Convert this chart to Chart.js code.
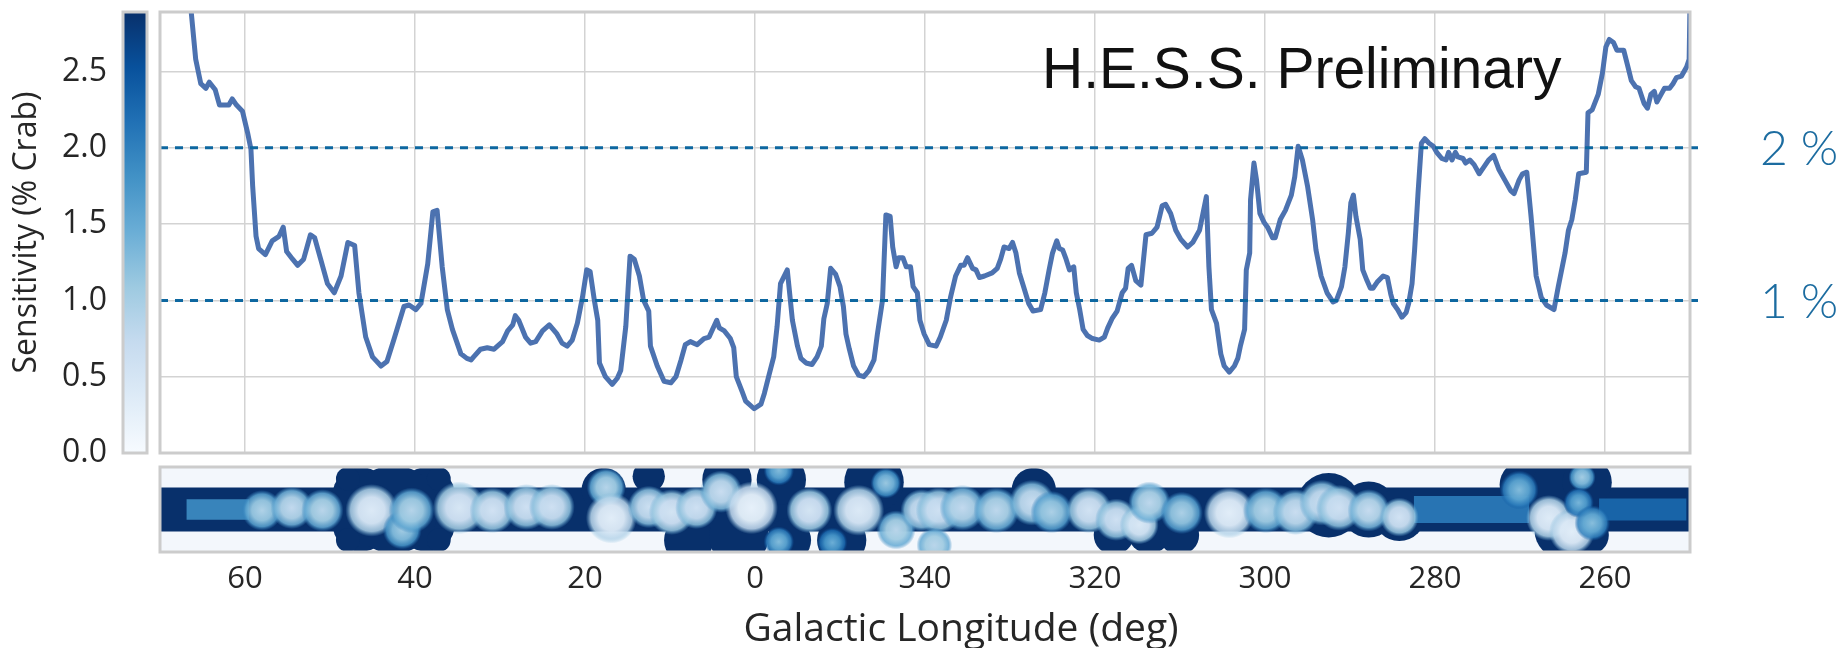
<!DOCTYPE html>
<html>
<head>
<meta charset="utf-8">
<title>H.E.S.S. Galactic plane sensitivity</title>
<script src="https://cdn.jsdelivr.net/npm/chart.js@4.4.1/dist/chart.umd.min.js"></script>
<style>
  html, body { margin: 0; padding: 0; background: #fff; }
  #wrap { position: relative; width: 1843px; height: 648px; overflow: hidden; }
  #wrap canvas { position: absolute; left: 0; top: 0; }
</style>
</head>
<body>
<div id="wrap">
  <canvas id="bar" width="1843" height="648"></canvas>
  <canvas id="map" width="1843" height="648"></canvas>
  <canvas id="curve" width="1843" height="648"></canvas>
</div>
<script>
// sensitivity profile along the plane: galactic longitude (deg) / sensitivity (% Crab)
const lon = [
  66.6, 65.8, 65.2, 64.6, 64.2, 63.5, 63.0, 61.9, 61.5, 61.0,
  60.3, 59.7, 59.3, 59.1, 58.7, 58.4, 57.6, 56.8, 56.0, 55.5,
  55.1, 54.4, 53.8, 53.1, 52.3, 51.8, 51.1, 50.3, 49.5, 48.7,
  47.9, 47.1, 46.6, 45.8, 45.0, 44.0, 43.3, 42.5, 41.3, 40.7,
  39.9, 39.3, 38.5, 37.9, 37.4, 36.8, 36.2, 35.6, 34.6, 33.9,
  33.4, 33.1, 32.3, 31.5, 30.7, 29.7, 29.1, 28.5, 28.2, 27.8,
  27.0, 26.4, 25.8, 25.0, 24.2, 23.3, 22.7, 22.1, 21.5, 20.9,
  20.3, 19.8, 19.4, 18.9, 18.5, 18.3, 17.6, 16.8, 16.2, 15.8,
  15.2, 14.7, 14.2, 13.6, 13.1, 12.5, 12.3, 11.5, 10.7, 9.9,
  9.3, 8.7, 8.2, 7.6, 6.8, 6.0, 5.4, 5.0, 4.5, 4.2,
  3.6, 2.9, 2.5, 2.2, 1.5, 1.1, 0.1, 359.3, 358.9, 358.4,
  357.8, 357.4, 357.0, 356.2, 355.6, 355.0, 354.6, 354.0, 353.3, 352.7,
  352.2, 351.9, 351.5, 351.1, 350.5, 350.0, 349.6, 349.3, 348.9, 348.4,
  347.8, 347.2, 346.6, 346.0, 345.6, 345.0, 344.6, 344.1, 343.8, 343.4,
  343.1, 342.6, 342.2, 341.7, 341.4, 340.9, 340.6, 340.1, 339.5, 338.7,
  338.2, 337.5, 337.0, 336.4, 335.8, 335.4, 335.0, 334.4, 334.0, 333.6,
  333.0, 332.1, 331.5, 331.1, 330.7, 330.1, 329.7, 329.3, 328.9, 328.4,
  327.8, 327.3, 326.4, 325.9, 325.4, 325.0, 324.5, 324.2, 323.8, 323.4,
  323.0, 322.5, 322.2, 321.8, 321.4, 320.9, 320.3, 319.5, 318.9, 318.5,
  318.0, 317.4, 316.8, 316.4, 316.1, 315.7, 315.2, 314.6, 314.0, 313.3,
  312.7, 312.1, 311.7, 311.1, 310.5, 309.9, 309.1, 308.5, 307.7, 307.3,
  306.9, 306.6, 306.3, 305.7, 305.2, 304.8, 304.2, 303.6, 303.2, 302.9,
  302.4, 302.2, 301.8, 301.7, 301.3, 301.0, 300.6, 300.1, 299.7, 299.1,
  298.8, 298.2, 297.6, 296.9, 296.5, 296.1, 295.6, 295.0, 294.4, 294.0,
  293.4, 292.7, 292.0, 291.6, 291.0, 290.6, 290.2, 289.9, 289.6, 289.3,
  288.8, 288.5, 288.0, 287.6, 287.3, 286.8, 286.1, 285.6, 285.2, 284.9,
  284.4, 283.9, 283.4, 283.1, 282.7, 282.4, 282.0, 281.6, 281.2, 280.7,
  280.2, 279.8, 279.2, 278.7, 278.4, 278.0, 277.6, 277.3, 276.7, 276.4,
  275.9, 275.4, 274.8, 274.3, 273.7, 273.1, 272.5, 271.7, 271.1, 270.7,
  270.1, 269.7, 269.2, 268.7, 268.1, 267.5, 266.9, 266.0, 265.5, 264.7,
  264.3, 263.9, 263.5, 263.1, 262.2, 262.0, 261.5, 260.8, 260.3, 259.9,
  259.5, 259.0, 258.6, 257.8, 257.3, 256.9, 256.4, 256.0, 255.4, 255.0,
  254.6, 254.2, 253.9, 253.4, 253.0, 252.4, 252.0, 251.6, 251.0, 250.4,
  250.1, 250.0
];
const sens = [
  3.05, 2.58, 2.42, 2.39, 2.43, 2.38, 2.28, 2.28, 2.32, 2.28,
  2.24, 2.10, 1.99, 1.75, 1.42, 1.34, 1.30, 1.39, 1.42, 1.48,
  1.32, 1.27, 1.23, 1.27, 1.43, 1.41, 1.27, 1.11, 1.05, 1.16,
  1.38, 1.36, 1.05, 0.76, 0.63, 0.57, 0.60, 0.74, 0.96, 0.97,
  0.94, 0.98, 1.24, 1.58, 1.59, 1.22, 0.94, 0.81, 0.65, 0.62,
  0.61, 0.63, 0.68, 0.69, 0.68, 0.73, 0.80, 0.84, 0.90, 0.87,
  0.76, 0.72, 0.73, 0.80, 0.84, 0.78, 0.72, 0.70, 0.74, 0.85,
  1.02, 1.20, 1.19, 1.00, 0.87, 0.59, 0.50, 0.45, 0.49, 0.54,
  0.83, 1.29, 1.27, 1.16, 1.00, 0.93, 0.70, 0.57, 0.47, 0.46,
  0.50, 0.61, 0.71, 0.73, 0.71, 0.75, 0.76, 0.81, 0.87, 0.82,
  0.80, 0.75, 0.69, 0.50, 0.40, 0.34, 0.29, 0.32, 0.39, 0.50,
  0.63, 0.83, 1.11, 1.20, 0.87, 0.70, 0.62, 0.59, 0.58, 0.63,
  0.70, 0.88, 0.98, 1.21, 1.17, 1.09, 0.96, 0.78, 0.68, 0.57,
  0.51, 0.50, 0.54, 0.61, 0.78, 1.00, 1.56, 1.55, 1.35, 1.22,
  1.28, 1.28, 1.22, 1.22, 1.09, 1.05, 0.87, 0.78, 0.71, 0.70,
  0.76, 0.87, 1.02, 1.16, 1.23, 1.23, 1.28, 1.21, 1.20, 1.15,
  1.16, 1.18, 1.21, 1.27, 1.35, 1.34, 1.38, 1.31, 1.18, 1.09,
  0.98, 0.93, 0.94, 1.05, 1.20, 1.31, 1.39, 1.34, 1.33, 1.27,
  1.20, 1.22, 1.05, 0.94, 0.81, 0.77, 0.75, 0.74, 0.76, 0.82,
  0.88, 0.93, 1.05, 1.08, 1.21, 1.23, 1.13, 1.10, 1.43, 1.44,
  1.48, 1.62, 1.63, 1.57, 1.46, 1.40, 1.35, 1.38, 1.46, 1.57,
  1.68, 1.22, 0.94, 0.85, 0.65, 0.57, 0.53, 0.57, 0.62, 0.70,
  0.81, 1.20, 1.31, 1.66, 1.90, 1.79, 1.57, 1.51, 1.48, 1.41,
  1.41, 1.53, 1.59, 1.69, 1.81, 2.01, 1.92, 1.75, 1.53, 1.33,
  1.16, 1.05, 0.99, 1.00, 1.09, 1.22, 1.44, 1.64, 1.69, 1.55,
  1.40, 1.20, 1.13, 1.08, 1.08, 1.12, 1.16, 1.15, 1.04, 0.98,
  0.94, 0.89, 0.92, 0.98, 1.11, 1.33, 1.70, 2.03, 2.06, 2.03,
  2.01, 1.97, 1.93, 1.92, 1.97, 1.92, 1.97, 1.94, 1.93, 1.90,
  1.92, 1.89, 1.83, 1.87, 1.92, 1.95, 1.86, 1.78, 1.72, 1.70,
  1.79, 1.83, 1.84, 1.55, 1.16, 1.02, 0.97, 0.94, 1.09, 1.31,
  1.46, 1.53, 1.66, 1.83, 1.84, 2.23, 2.25, 2.35, 2.49, 2.66,
  2.71, 2.69, 2.64, 2.64, 2.53, 2.44, 2.40, 2.39, 2.29, 2.26,
  2.35, 2.37, 2.30, 2.35, 2.39, 2.39, 2.42, 2.46, 2.47, 2.53,
  2.58, 2.95
];

const sensMax = 2.89;
const yTicks = [0, 0.5, 1, 1.5, 2, 2.5];
const lonTicks = [60, 40, 20, 0, 340, 320, 300, 280, 260];
const lonRange = [250, 70];          // right edge, left edge
const levels = [2, 1];               // reference levels, % Crab
const levelEnd = 248.6;              // dashed lines run a bit past the frame

// survey map below the profile (lon, lat in deg)
const latRange = 5;
const bandLat = 2.6;                 // covered strip around b = 0
// bright spots of good sensitivity: lon, lat, radius (deg), sensitivity (% Crab)
const spotLon = [58.0, 54.5, 50.9, 45.1, 41.5, 40.4, 34.8, 30.9, 26.9, 23.9,
                 17.5, 16.9, 12.5, 9.8, 6.9, 4.0, 0.4, 357.2, 357.2, 353.6,
                 350.9, 347.8, 344.6, 343.4, 340.4, 338.4, 338.9, 335.6, 331.6, 327.4,
                 325.1, 320.7, 317.5, 314.8, 313.6, 309.8, 304.2, 299.9, 296.4, 293.3,
                 291.3, 287.8, 284.2, 270.1, 266.6, 263.9, 262.7, 263.1, 261.5];
const spotLat = [-0.1, 0.2, -0.1, -0.1, -2.4, -0.1, 0.2, -0.1, 0.3, 0.3,
                 2.6, -1.0, 0.3, -0.3, 0.2, 2.1, 0.2, 4.6, -3.8, -0.1,
                 -3.9, -0.1, 3.1, -2.4, -0.1, -0.1, -4.2, 0.2, -0.1, 0.8,
                 -0.3, -0.1, -1.2, -1.8, 0.8, -0.4, -0.4, -0.1, -0.3, 0.8,
                 0.2, -0.1, -0.9, 2.3, -1.0, -2.6, 3.8, 0.8, -1.6];
const spotRad = [2.4, 2.5, 2.5, 3.1, 2.3, 2.7, 3.1, 2.7, 2.7, 2.7,
                 2.3, 3.0, 2.5, 2.7, 2.5, 2.5, 3.1, 1.8, 1.8, 2.7,
                 1.8, 3.0, 1.8, 2.3, 2.5, 2.7, 2.1, 2.7, 2.7, 2.7,
                 2.5, 2.7, 2.5, 2.3, 2.5, 2.5, 3.0, 2.7, 2.7, 2.7,
                 2.7, 2.5, 2.3, 2.3, 2.7, 2.7, 1.6, 1.8, 2.1];
const spotSens = [1.15, 0.95, 1.05, 0.5, 1.3, 1.1, 0.6, 0.7, 0.75, 0.75,
                  1.1, 0.4, 0.8, 0.65, 0.75, 0.85, 0.3, 1.6, 1.6, 0.65,
                  1.8, 0.5, 1.4, 1.05, 0.8, 0.75, 1.05, 0.95, 1.0, 0.85,
                  1.2, 0.7, 0.75, 0.55, 1.0, 1.2, 0.4, 1.1, 0.85, 0.8,
                  0.75, 0.9, 0.7, 1.6, 0.45, 0.4, 1.3, 1.7, 1.55];
// extra coverage reaching outside the strip: lon, lat, radius (deg)
const haloLon = [46.4, 46.4, 38.6, 38.6, 42.5, 47.9, 47.9, 37.2, 37.2,
                 17.8, 12.5, 3.3, 356.9, 346.0,
                 7.8, 1.9, 356.0, 349.8, 327.2, 313.6, 310.1, 317.8, 292.5, 287.8,
                 284.2, 269.5, 265.2, 262.1, 264.8, 261.9];
const haloLat = [1.7, -1.7, 1.7, -1.7, 0, 3.6, -3.6, 3.6, -3.6,
                 2.3, 3.9, 3.5, 3.5, 3.2,
                 -3.6, -3.2, -3.6, -3.6, 2.3, -2.6, -3.0, -3.0, 0.5, 0,
                 -0.6, 2.9, 2.5, 3.2, -2.4, -3.0];
const haloRad = [3.3, 3.3, 3.3, 3.3, 5.2, 1.4, 1.4, 1.4, 1.4,
                 2.6, 1.9, 2.9, 2.9, 3.5,
                 2.9, 3.5, 2.6, 2.9, 2.6, 2.6, 2.35, 2.35, 3.8, 3.3,
                 3.1, 2.9, 3.5, 2.9, 3.5, 2.35];
// thin low-exposure scans: from / to lon, half width (deg), sensitivity
const stripFrom = [66.9, 282.5, 260.7];
const stripTo = [59.5, 268.9, 250.4];
const stripHalf = [1.2, 1.6, 1.3];
const stripSens = [1.85, 2.05, 2.25];

const toAxis = l => (l > 180 ? l - 360 : l);
const toLon = v => (v < 0 ? v + 360 : v);

// matplotlib "Blues"
const blues = ['#f7fbff', '#deebf7', '#c6dbef', '#9ecae1', '#6baed6',
               '#4292c6', '#2171b5', '#08519c', '#08306b'];
const navy = blues[blues.length - 1];
const rgb = c => [1, 3, 5].map(i => parseInt(c.slice(i, i + 2), 16));
function bluesAt(t, a = 1) {
  t = Math.min(1, Math.max(0, t)) * (blues.length - 1);
  const i = Math.min(Math.floor(t), blues.length - 2), f = t - i;
  const c0 = rgb(blues[i]), c1 = rgb(blues[i + 1]);
  const c = c0.map((v, k) => Math.round(v + (c1[k] - v) * f));
  return `rgba(${c[0]},${c[1]},${c[2]},${a})`;
}
const sensColor = (s, a) => bluesAt(s / sensMax, a);

function degPx(chart) {
  const s = chart.scales.x;
  if (!s) return 0;
  const d = Math.abs(s.getPixelForValue(1) - s.getPixelForValue(0));
  return Number.isFinite(d) ? d : 0;
}

Chart.defaults.font.family = '"Open Sans", "DejaVu Sans", sans-serif';
Chart.defaults.color = '#262626';

// grey box round the plot area
const frame = {
  id: 'frame',
  afterDraw(chart, args, opts) {
    const {ctx, chartArea: a} = chart;
    ctx.save();
    ctx.strokeStyle = opts.color || '#cccccc';
    ctx.lineWidth = opts.width || 3;
    ctx.strokeRect(a.left, a.top, a.right - a.left, a.bottom - a.top);
    ctx.restore();
  }
};

const backdrop = {
  id: 'backdrop',
  beforeDatasetsDraw(chart, args, opts) {
    if (!opts.color) return;
    const {ctx, chartArea: a} = chart;
    ctx.save();
    ctx.fillStyle = opts.color;
    ctx.fillRect(a.left, a.top, a.right - a.left, a.bottom - a.top);
    ctx.restore();
  }
};

// axis caption under the map, set a little right of the plot centre
const caption = {
  id: 'caption',
  afterDraw(chart, args, opts) {
    const {ctx} = chart;
    ctx.save();
    ctx.font = opts.font;
    ctx.fillStyle = opts.color;
    ctx.textAlign = 'center';
    ctx.textBaseline = 'middle';
    ctx.fillText(opts.text, opts.x, opts.y);
    ctx.restore();
  }
};

// watermark text and the level labels on the right
const notes = {
  id: 'notes',
  afterDraw(chart) {
    const {ctx, scales: {y}} = chart;
    ctx.save();
    ctx.fillStyle = '#111111';
    ctx.font = '57px "Liberation Sans", Arial, sans-serif';
    ctx.textBaseline = 'alphabetic';
    ctx.fillText('H.E.S.S. Preliminary', 1042, 88);
    ctx.fillStyle = '#1c6ca0';
    ctx.font = '300 48px Lato, "Open Sans", sans-serif';
    ctx.textBaseline = 'middle';
    levels.forEach(lv => ctx.fillText(lv + ' %', 1760, y.getPixelForValue(lv) + 2));
    ctx.restore();
  }
};

const lonTickList = scale => { scale.ticks = lonTicks.map(l => ({value: toAxis(l)})); };

/* ---- colour bar with the sensitivity axis ---- */
new Chart(document.getElementById('bar'), {
  type: 'bar',
  data: {
    labels: [''],
    datasets: [{
      data: [sensMax],
      barPercentage: 1,
      categoryPercentage: 1,
      borderWidth: 0,
      backgroundColor(ctx) {
        const a = ctx.chart.chartArea;
        if (!a) return bluesAt(0.5);
        const g = ctx.chart.ctx.createLinearGradient(0, a.bottom, 0, a.top);
        blues.forEach((c, i) => g.addColorStop(i / (blues.length - 1), c));
        return g;
      }
    }]
  },
  options: {
    responsive: false, animation: false, events: [], devicePixelRatio: 1,
    layout: {padding: {left: 0, top: 12, right: 1696, bottom: 195}},
    plugins: {legend: {display: false}, tooltip: {enabled: false}, frame: {color: '#cccccc', width: 3}},
    scales: {
      x: {display: false},
      y: {
        min: 0, max: sensMax,
        afterBuildTicks: s => { s.ticks = yTicks.map(v => ({value: v})); },
        afterFit: s => { s.width = 123; s.paddingTop = 0; s.paddingBottom = 0; },
        grid: {display: false},
        border: {display: false},
        ticks: {font: {size: 32}, padding: 8, callback: v => v.toFixed(1)},
        title: {display: true, text: 'Sensitivity (% Crab)', font: {size: 32}, padding: {top: 8, bottom: 0}}
      }
    }
  },
  plugins: [frame]
});

/* ---- survey map strip ---- */
const edge = lat => [{x: toAxis(lonRange[0]), y: lat}, {x: toAxis(lonRange[1]), y: lat}];
const flat = {type: 'line', borderWidth: 0, borderColor: 'transparent', pointRadius: 0, clip: 0};
const dots = {type: 'scatter', showLine: false, clip: 0, pointBorderWidth: 0, pointHoverRadius: 0};

const mapSets = [
  {...flat, data: edge(bandLat), fill: '+1', backgroundColor: navy, order: 5},
  {...flat, data: edge(-bandLat), fill: false, order: 5},
  {
    ...dots, order: 4, pointBackgroundColor: navy,
    data: haloLon.map((l, i) => ({x: toAxis(l), y: haloLat[i]})),
    pointRadius: ctx => haloRad[ctx.dataIndex] * degPx(ctx.chart)
  }
];
stripFrom.forEach((l0, i) => {
  const seg = lat => [{x: toAxis(l0), y: lat}, {x: toAxis(stripTo[i]), y: lat}];
  mapSets.push({...flat, data: seg(stripHalf[i]), fill: '+1', backgroundColor: sensColor(stripSens[i], 0.9), order: 3});
  mapSets.push({...flat, data: seg(-stripHalf[i]), fill: false, order: 3});
});
mapSets.push({
  ...dots, order: 2,
  data: spotLon.map((l, i) => ({x: toAxis(l), y: spotLat[i]})),
  pointRadius: ctx => spotRad[ctx.dataIndex] * degPx(ctx.chart),
  pointBackgroundColor(ctx) {
    const i = ctx.dataIndex, ch = ctx.chart, s = spotSens[i];
    const base = sensColor(s, 1);
    if (!ch.chartArea || !ch.scales.y) return base;
    const px = ch.scales.x.getPixelForValue(toAxis(spotLon[i]));
    const py = ch.scales.y.getPixelForValue(spotLat[i]);
    const r = spotRad[i] * degPx(ch);
    if (![px, py, r].every(Number.isFinite) || r <= 0) return base;
    // soft-edged disc: light core fading out through darker blue
    const g = ch.ctx.createRadialGradient(px, py, 0, px, py, r);
    g.addColorStop(0, sensColor(s * 0.8, 1));
    g.addColorStop(0.5, sensColor(s, 0.97));
    g.addColorStop(0.8, sensColor(s + 0.45, 0.85));
    g.addColorStop(1, sensColor(s + 0.9, 0));
    return g;
  }
});

new Chart(document.getElementById('map'), {
  type: 'scatter',
  data: {datasets: mapSets},
  options: {
    responsive: false, animation: false, events: [], devicePixelRatio: 1,
    layout: {padding: {left: 160, right: 153, top: 467, bottom: 0}},
    plugins: {
      legend: {display: false}, tooltip: {enabled: false},
      frame: {color: '#cccccc', width: 3},
      backdrop: {color: '#f3f7fc'},
      caption: {text: 'Galactic Longitude (deg)', font: '39px "Open Sans", sans-serif', color: '#262626', x: 961, y: 630}
    },
    scales: {
      x: {
        type: 'linear', min: toAxis(lonRange[0]), max: toAxis(lonRange[1]), reverse: true, z: 1,
        afterBuildTicks: lonTickList,
        afterFit: s => { s.height = 96; },
        grid: {color: 'rgba(206,206,206,0.85)', lineWidth: 1.5, drawTicks: false},
        border: {display: false},
        ticks: {font: {size: 31}, padding: 9, autoSkip: false, maxRotation: 0, callback: v => String(toLon(v))}
      },
      y: {display: false, min: -latRange, max: latRange}
    }
  },
  plugins: [backdrop, frame, caption]
});

/* ---- sensitivity profile ---- */
const curvePts = lon.map((l, i) => ({x: toAxis(l), y: sens[i]}));

new Chart(document.getElementById('curve'), {
  type: 'line',
  data: {
    datasets: [
      ...levels.map(lv => ({
        data: [{x: toAxis(lonRange[1]), y: lv}, {x: toAxis(levelEnd), y: lv}],
        borderColor: '#0d67a0', borderWidth: 3, borderDash: [8, 7],
        pointRadius: 0, clip: false, order: 0
      })),
      {
        data: curvePts,
        borderColor: '#4c72b0', borderWidth: 5, borderJoinStyle: 'round', borderCapStyle: 'round',
        pointRadius: 0, order: 1
      }
    ]
  },
  options: {
    responsive: false, animation: false, events: [], devicePixelRatio: 1,
    layout: {padding: {left: 160, right: 153, top: 12, bottom: 195}},
    plugins: {legend: {display: false}, tooltip: {enabled: false}, frame: {color: '#cccccc', width: 3}},
    scales: {
      x: {
        type: 'linear', min: toAxis(lonRange[0]), max: toAxis(lonRange[1]), reverse: true,
        afterBuildTicks: lonTickList,
        afterFit: s => { s.height = 0; },
        grid: {color: '#d3d3d3', lineWidth: 1.5, drawTicks: false},
        border: {display: false},
        ticks: {display: false}
      },
      y: {
        min: 0, max: sensMax,
        afterBuildTicks: s => { s.ticks = yTicks.map(v => ({value: v})); },
        afterFit: s => { s.width = 0; },
        grid: {color: '#d3d3d3', lineWidth: 1.5, drawTicks: false},
        border: {display: false},
        ticks: {display: false}
      }
    }
  },
  plugins: [frame, notes]
});
</script>
</body>
</html>
